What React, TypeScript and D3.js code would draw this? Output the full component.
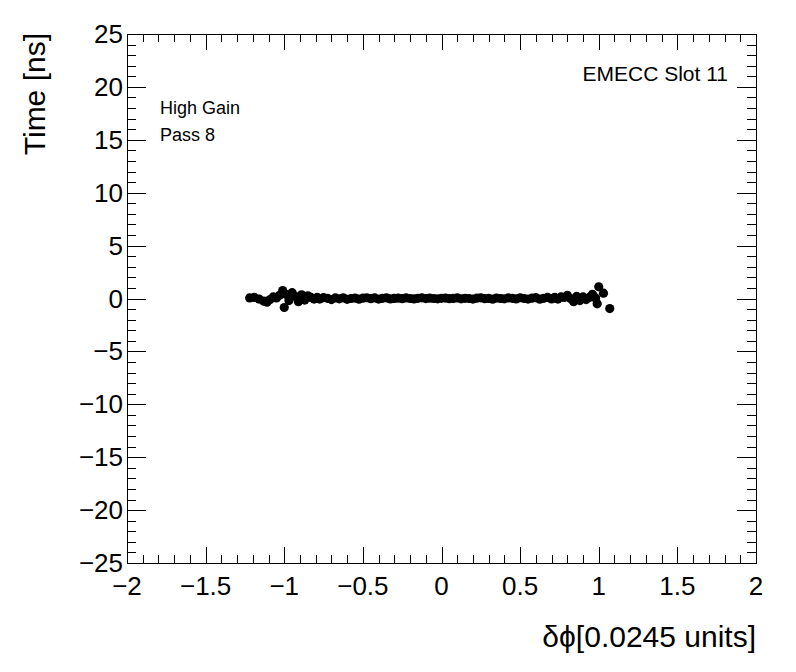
import React from "react";
import * as d3 from "d3";

const W = 796;
const H = 672;
const xDomain = [-2, 2];
const yDomain = [-25, 25];
const xMajorTicks = [-2, -1.5, -1, -0.5, 0, 0.5, 1, 1.5, 2];
const yMajorTicks = [-25, -20, -15, -10, -5, 0, 5, 10, 15, 20, 25];
const xTickLabels = ["\u22122", "\u22121.5", "\u22121", "\u22120.5", "0", "0.5", "1", "1.5", "2"];
const yTickLabels = ["\u221225", "\u221220", "\u221215", "\u221210", "\u22125", "0", "5", "10", "15", "20", "25"];

const dphi = [
  -1.22, -1.19, -1.16, -1.13, -1.11, -1.09, -1.07, -1.05, -1.03, -1.01, -1.0, -0.99, -0.97, -0.95, -0.93, -0.91, -0.89, -0.87, -0.85, -0.83, -0.81, -0.79,
  -0.775, -0.75, -0.725, -0.7, -0.675, -0.65, -0.625, -0.6, -0.575, -0.55, -0.525, -0.5, -0.475, -0.45, -0.425, -0.4, -0.375, -0.35, -0.325, -0.3,
  -0.275, -0.25, -0.225, -0.2, -0.175, -0.15, -0.125, -0.1, -0.075, -0.05, -0.025, 0.0, 0.025, 0.05, 0.075, 0.1, 0.125, 0.15, 0.175, 0.2,
  0.225, 0.25, 0.275, 0.3, 0.325, 0.35, 0.375, 0.4, 0.425, 0.45, 0.475, 0.5, 0.525, 0.55, 0.575, 0.6, 0.625, 0.65, 0.675, 0.7,
  0.72, 0.74, 0.76, 0.78, 0.8, 0.82, 0.84, 0.86, 0.88, 0.9, 0.92, 0.94, 0.96, 0.98, 0.99, 1.0, 1.03, 1.07,
];
const timeNs = [
  0.05, 0.1, -0.05, -0.25, -0.35, -0.1, 0.15, 0.05, 0.3, 0.75, -0.85, 0.4, -0.2, 0.55, 0.2, -0.3, 0.35, -0.15, 0.25, 0.1, -0.05, 0.1,
  -0.05, 0.08, 0.02, -0.1, 0.05, -0.03, 0.06, -0.08, 0.0, 0.04, -0.06, 0.03, 0.07, -0.02, 0.05, -0.05, 0.02, 0.06, -0.04, 0.01,
  0.03, -0.02, 0.05, 0.0, -0.04, 0.02, 0.06, -0.01, 0.03, 0.0, -0.03, 0.02, 0.04, -0.02, 0.01, 0.05, -0.03, 0.02, 0.0, -0.05,
  0.03, 0.06, -0.02, 0.01, -0.06, 0.04, 0.0, -0.03, 0.05, 0.02, -0.04, 0.07, 0.0, -0.05, 0.03, 0.08, -0.06, 0.02, 0.1, -0.04,
  0.1, -0.05, 0.15, 0.1, 0.3, 0.0, -0.3, 0.2, -0.2, 0.15, -0.1, 0.1, 0.4, 0.05, -0.5, 1.1, 0.5, -0.95,
];

const FONT = "'Liberation Sans', Arial, Helvetica, sans-serif";

export default function App() {
  const L = 127, R = 756, T = 34, B = 563;
  const x = d3.scaleLinear().domain(xDomain).range([L, R]);
  const y = d3.scaleLinear().domain(yDomain).range([B, T]);
  const xMinor = d3.range(-20, 21).map((i) => i / 10);
  const yMinor = d3.range(-25, 26);
  const xMajLen = 0.03 * (B - T);
  const yMajLen = 0.03 * (R - L);
  const pts = dphi.map((d, i) => [d, timeNs[i]]);

  return (
    <svg width={W} height={H} style={{ display: "block", position: "absolute", left: 0, top: 0 }} fontFamily={FONT}>
      <rect x={0} y={0} width={W} height={H} fill="#fff" />
      <g stroke="#000" strokeWidth={1} shapeRendering="crispEdges">
        {xMinor.map((t) => {
          const major = Math.abs(t * 2 - Math.round(t * 2)) < 1e-6;
          const len = major ? xMajLen : xMajLen / 2;
          const xx = Math.round(x(t)) + 0.5;
          return (
            <g key={"xt" + t}>
              <line x1={xx} x2={xx} y1={B} y2={B - len} />
              <line x1={xx} x2={xx} y1={T} y2={T + len} />
            </g>
          );
        })}
        {yMinor.map((t) => {
          const major = t % 5 === 0;
          const len = major ? yMajLen : yMajLen / 2;
          const yy = Math.round(y(t)) + 0.5;
          return (
            <g key={"yt" + t}>
              <line x1={L} x2={L + len} y1={yy} y2={yy} />
              <line x1={R} x2={R - len} y1={yy} y2={yy} />
            </g>
          );
        })}
        <rect x={L + 0.5} y={T + 0.5} width={R - L} height={B - T} fill="none" />
      </g>
      <g fontSize={26} fill="#000">
        {xMajorTicks.map((t, i) => (
          <text key={"xl" + t} x={x(t)} y={595} textAnchor="middle">
            {xTickLabels[i]}
          </text>
        ))}
        {yMajorTicks.map((t, i) => (
          <text key={"yl" + t} x={123} y={y(t) + 9} textAnchor="end">
            {yTickLabels[i]}
          </text>
        ))}
      </g>
      <text x={756} y={647} fontSize={30} textAnchor="end">
        {"\u03B4\u03D5[0.0245 units]"}
      </text>
      <text transform="translate(45,33) rotate(-90)" fontSize={30} textAnchor="end">
        Time [ns]
      </text>
      <text x={728} y={81} fontSize={21} textAnchor="end">EMECC Slot 11</text>
      <text x={160} y={114} fontSize={18}>High Gain</text>
      <text x={160} y={141} fontSize={18}>Pass 8</text>
      <g fill="#000">
        {pts.map((p, i) => (
          <circle key={i} cx={x(p[0])} cy={y(p[1])} r={4.6} />
        ))}
      </g>
    </svg>
  );
}
